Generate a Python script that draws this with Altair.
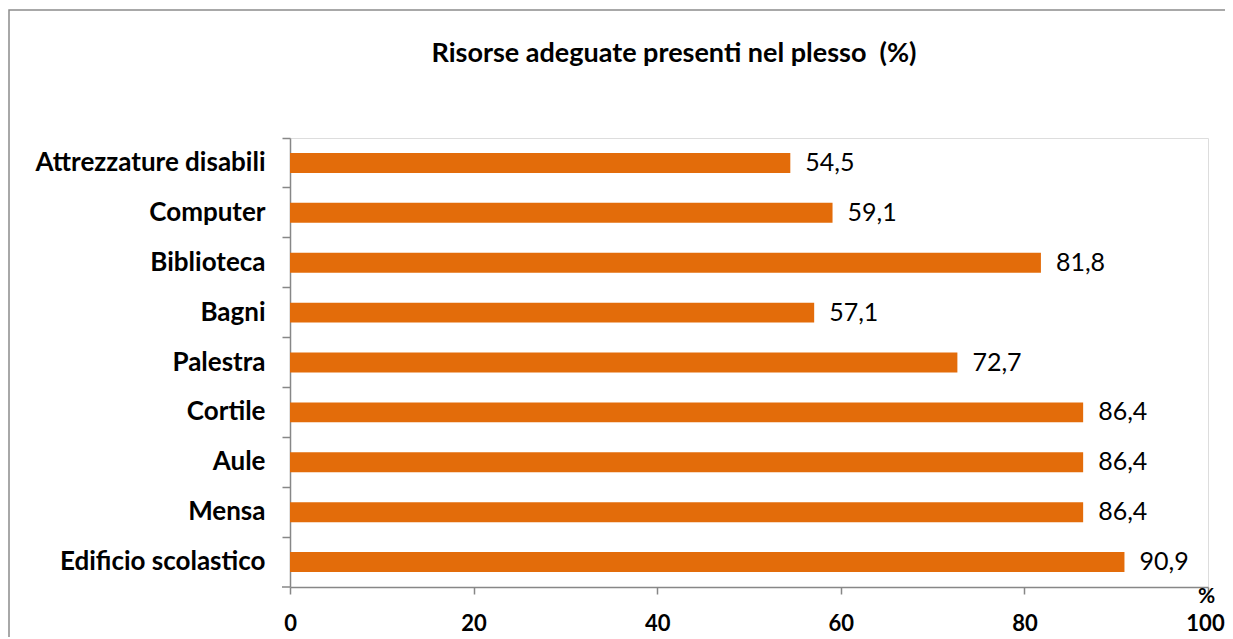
import altair as alt
import pandas as pd

categories = ["Attrezzature disabili", "Computer", "Biblioteca", "Bagni", "Palestra",
              "Cortile", "Aule", "Mensa", "Edificio scolastico"]
values = [54.5, 59.1, 81.8, 57.1, 72.7, 86.4, 86.4, 86.4, 90.9]
labels = ["54,5", "59,1", "81,8", "57,1", "72,7", "86,4", "86,4", "86,4", "90,9"]
x_ticks = [0, 20, 40, 60, 80, 100]

df = pd.DataFrame({"cat": categories, "val": values, "lab": labels})

FONT = "Lato"
W, H = 918, 449
AX = "#878787"

y_enc = alt.Y("cat:N", sort=categories, title=None,
              scale=alt.Scale(paddingInner=0.6, paddingOuter=0.3),
              axis=alt.Axis(labelFont=FONT, labelFontSize=26, labelFontWeight="bold",
                            labelColor="black", labelPadding=17, labelLimit=0, tickSize=8,
                            tickColor=AX, domainColor=AX,
                            domainWidth=1.5, tickWidth=1.5, bandPosition=-0.75,
                            ticks=True, grid=False))
x_enc = alt.X("val:Q", title="%", scale=alt.Scale(domain=[0, 100], nice=False),
              axis=alt.Axis(values=x_ticks, labelFont=FONT, labelFontSize=22,
                            labelFontWeight="bold", labelColor="black", labelPadding=19,
                            labelFlush=False,
                            labelOffset={"condition": {"test": "datum.value == 100", "value": -3},
                                         "value": 0},
                            tickSize=7, tickColor=AX, domainColor=AX,
                            domainWidth=1.5, tickWidth=1.5, grid=False,
                            titleFont=FONT, titleFontSize=21, titleFontWeight="bold",
                            titleColor="black", titleX=W - 2, titleY=9,
                            titleAlign="center", titleBaseline="middle",
                            titleAngle=0))

frame = alt.Chart(pd.DataFrame({"a": [0]})).mark_rect(
    fill=None, stroke="#8c8c8c", strokeWidth=1.5
).encode(x=alt.value(-281), x2=alt.value(W + 40), y=alt.value(-128), y2=alt.value(H + 80))

corner_tick = alt.Chart(pd.DataFrame({"a": [0]})).mark_rule(
    color=AX, strokeWidth=1.5
).encode(x=alt.value(-8), x2=alt.value(0), y=alt.value(H))

bars = alt.Chart(df).mark_bar(color="#E36C0A").encode(y=y_enc, x=x_enc)
text = alt.Chart(df).mark_text(align="left", baseline="middle", dx=15, font=FONT,
                               fontSize=25, color="black").encode(
    y=alt.Y("cat:N", sort=categories), x="val:Q", text="lab:N")

chart = alt.layer(frame, bars, text, corner_tick).properties(
    width=W, height=H,
    title=alt.TitleParams("Risorse adeguate presenti nel plesso \u00a0(%)", font=FONT,
                          fontSize=27, fontWeight="bold", color="black",
                          anchor="middle", frame="group", dx=-75, offset=-59),
    autosize=alt.AutoSizeParams(type="none"),
    padding={"left": 282, "top": 130, "right": 17, "bottom": 50},
).configure_view(stroke="transparent").configure(background="white")

chart.save("out.html", embed_options={"renderer": "svg", "actions": False})
